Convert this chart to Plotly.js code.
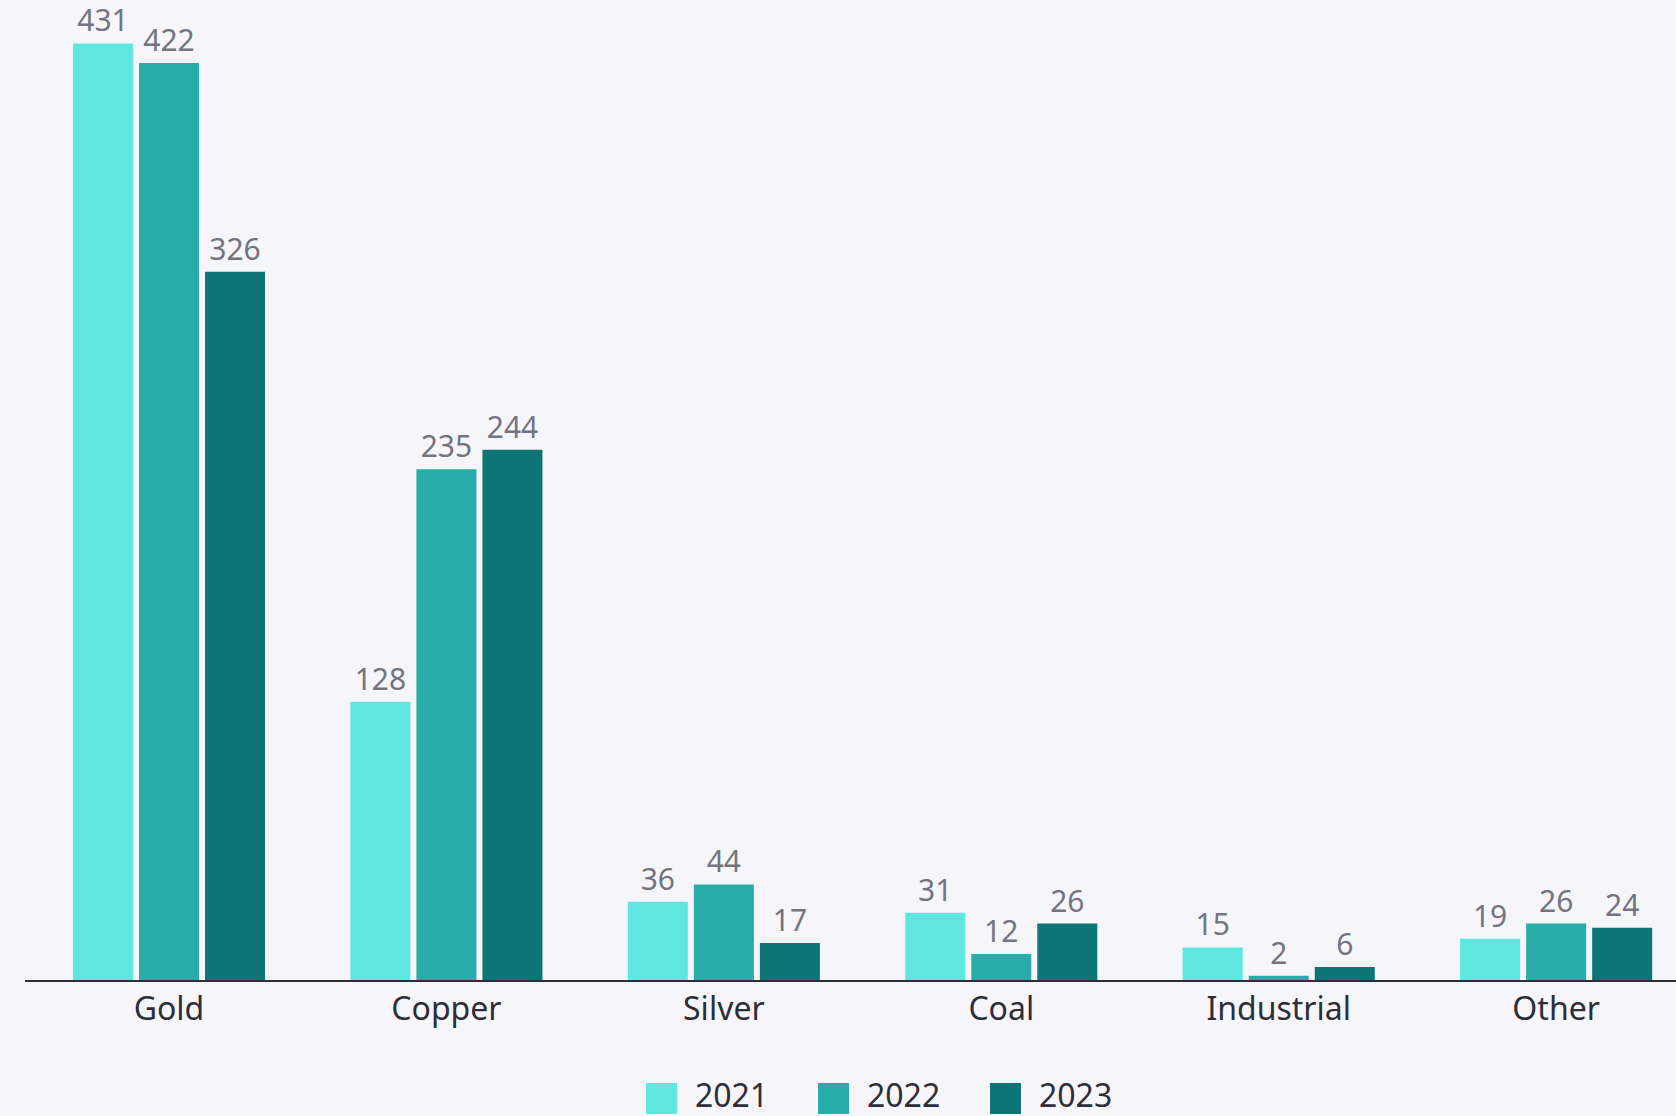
<!DOCTYPE html>
<html>
<head>
<meta charset="utf-8">
<script src="https://cdn.plot.ly/plotly-3.0.1.min.js"></script>
<style>
  html, body { margin: 0; padding: 0; background: #f6f6fa; }
  #chart { width: 1676px; height: 1116px; }
</style>
</head>
<body>
<div id="chart"></div>
<script>
// ---- data ----
const categories = ["Gold", "Copper", "Silver", "Coal", "Industrial", "Other"];
const seriesNames = ["2021", "2022", "2023"];
const values2021 = [431, 128, 36, 31, 15, 19];
const values2022 = [422, 235, 44, 12, 2, 26];
const values2023 = [326, 244, 17, 26, 6, 24];
const seriesColors = ["#60e6e1", "#27acaa", "#0d7575"];

const seriesValues = [values2021, values2022, values2023];

// ---- layout constants ----
const W = 1676, H = 1116;
const M = { l: 25, r: 0, t: 20, b: 136 };
const plotW = W - M.l - M.r, plotH = H - M.t - M.b;
const FONT = "Noto Sans, DejaVu Sans, sans-serif";

const traces = seriesNames.map((name, i) => ({
  type: "bar",
  name: name,
  x: categories,
  y: seriesValues[i],
  text: seriesValues[i].map(String),
  textposition: "outside",
  cliponaxis: false,
  constraintext: "none",
  textfont: { family: FONT, size: 30, color: "#747480" },
  marker: { color: seriesColors[i], line: { width: 0 } },
  hoverinfo: "x+y+name",
  showlegend: false
}));

// custom legend (large square swatches), built from the series arrays
function px2x(p) { return (p - M.l) / plotW; }
function py2y(p) { return (H - M.b - p) / plotH; }
const legStart = 646, legPitch = 172, sw = 31, legTop = 1083;
const shapes = [], annotations = [];
seriesNames.forEach((name, i) => {
  const x0 = legStart + i * legPitch;
  shapes.push({
    type: "rect", xref: "paper", yref: "paper",
    x0: px2x(x0), x1: px2x(x0 + sw),
    y0: py2y(legTop + sw), y1: py2y(legTop),
    fillcolor: seriesColors[i], line: { width: 0 }, layer: "above"
  });
  annotations.push({
    xref: "paper", yref: "paper",
    x: px2x(x0 + 48), y: py2y(legTop + 11),
    xanchor: "left", yanchor: "middle",
    text: name, showarrow: false, borderpad: 0,
    font: { family: FONT, size: 32, color: "#2e2e38" }
  });
});

const layout = {
  width: W, height: H,
  margin: M,
  paper_bgcolor: "#f6f6fa",
  plot_bgcolor: "#f6f6fa",
  barmode: "group",
  bargap: 0.286,
  bargroupgap: 0.091,
  showlegend: false,
  font: { family: FONT, color: "#2e2e38" },
  xaxis: {
    type: "category",
    range: [-0.519, 5.432],
    showline: true,
    linecolor: "#2e2e38",
    linewidth: 1.5,
    ticks: "",
    showgrid: false,
    zeroline: false,
    tickfont: { family: FONT, size: 32, color: "#2e2e38" },
    fixedrange: true
  },
  yaxis: {
    range: [0, 441.8],
    showticklabels: false,
    showgrid: false,
    zeroline: false,
    showline: false,
    ticks: "",
    fixedrange: true
  },
  shapes: shapes,
  annotations: annotations
};

Plotly.newPlot("chart", traces, layout, { displayModeBar: false });
</script>
</body>
</html>
